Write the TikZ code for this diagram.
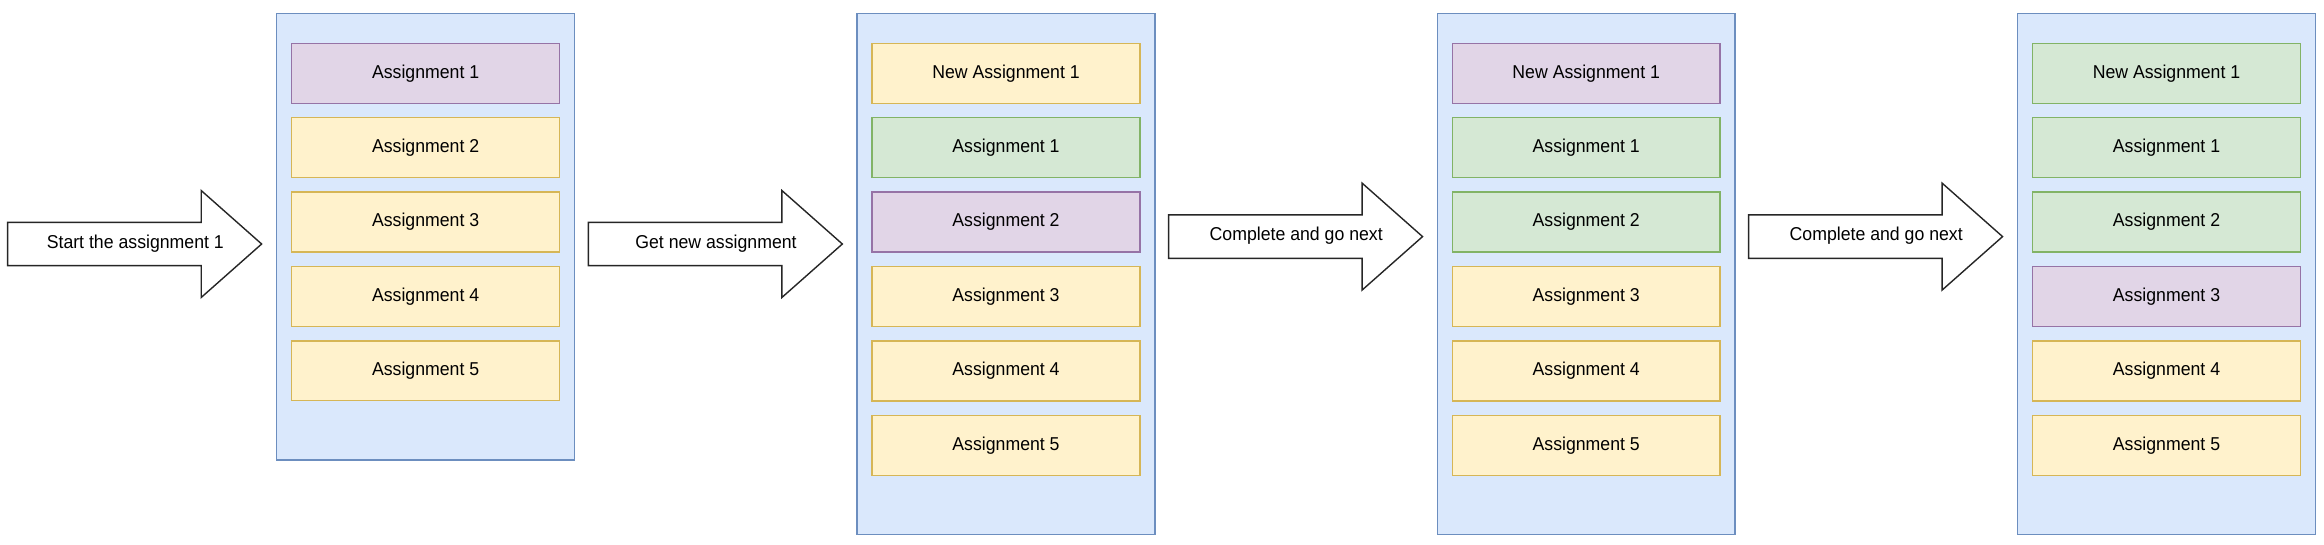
\documentclass[tikz,border=0pt]{standalone}
\usepackage{fontspec}
\setmainfont{Liberation Sans}[FakeStretch=0.95]
\usetikzlibrary{positioning, shapes.arrows}
\definecolor{panelBlue}{HTML}{DAE8FC}
\definecolor{panelBlueLine}{HTML}{6C8EBF}
\definecolor{taskYellow}{HTML}{FFF2CC}
\definecolor{taskYellowLine}{HTML}{D6B656}
\definecolor{taskPurple}{HTML}{E1D5E7}
\definecolor{taskPurpleLine}{HTML}{9673A6}
\definecolor{taskGreen}{HTML}{D5E8D4}
\definecolor{taskGreenLine}{HTML}{82B366}
\tikzstyle{listbox} =[draw=panelBlueLine, fill=panelBlue, line width=0.8pt, minimum width=5.96cm, minimum height=10.42cm]
\tikzstyle{task} =[draw, line width=0.8pt, minimum width=5.36cm, minimum height=1.2cm, inner sep=0pt, font=\fontsize{10.6}{12}\selectfont]
\tikzstyle{todo} =[task, draw=taskYellowLine, fill=taskYellow]
\tikzstyle{doing} =[task, draw=taskPurpleLine, fill=taskPurple]
\tikzstyle{done} =[task, draw=taskGreenLine, fill=taskGreen]
\tikzstyle{bigarrow} =[single arrow, draw=black!85, fill=white, line width=0.8pt, minimum height=5.08cm, single arrow head extend=0.635cm, single arrow tip angle=83, text height=7pt, text depth=2pt, inner ysep=7.45pt, inner xsep=0pt, execute at begin node={\hspace*{0.516cm}}, font=\fontsize{10.6}{12}\selectfont]

\begin{document}
\begin{tikzpicture}[x=0.02cm, y=-0.02cm]
\useasboundingbox (0,0) rectangle (2324,544);

\node (startArrow) [bigarrow] at (122.4,244) {Start the assignment 1};
\node (newArrow) [bigarrow] at (703.1,244) {Get new assignment};
\node (nextArrow) [bigarrow] at (1283.3,236.6) {Complete and go next};
\node (lastArrow) [bigarrow] at (1863.3,236.6) {Complete and go next};

\node (listOne) [listbox, minimum height=8.94cm] at (425.6,236.7) {};
\node (listTwo) [listbox] at (1006,273.8) {};
\node (listThree) [listbox] at (1586.2,273.8) {};
\node (listFour) [listbox] at (2166.5,273.8) {};

% first list
\node (listOneA) [doing, below=0.6cm of listOne.north] {Assignment 1};
\node (listOneB) [todo, below=0.26cm of listOneA] {Assignment 2};
\node (listOneC) [todo, below=0.26cm of listOneB] {Assignment 3};
\node (listOneD) [todo, below=0.26cm of listOneC] {Assignment 4};
\node (listOneE) [todo, below=0.26cm of listOneD] {Assignment 5};

% second list
\node (listTwoA) [todo, below=0.6cm of listTwo.north] {New Assignment 1};
\node (listTwoB) [done, below=0.26cm of listTwoA] {Assignment 1};
\node (listTwoC) [doing, below=0.26cm of listTwoB] {Assignment 2};
\node (listTwoD) [todo, below=0.26cm of listTwoC] {Assignment 3};
\node (listTwoE) [todo, below=0.26cm of listTwoD] {Assignment 4};
\node (listTwoF) [todo, below=0.26cm of listTwoE] {Assignment 5};

% third list
\node (listThreeA) [doing, below=0.6cm of listThree.north] {New Assignment 1};
\node (listThreeB) [done, below=0.26cm of listThreeA] {Assignment 1};
\node (listThreeC) [done, below=0.26cm of listThreeB] {Assignment 2};
\node (listThreeD) [todo, below=0.26cm of listThreeC] {Assignment 3};
\node (listThreeE) [todo, below=0.26cm of listThreeD] {Assignment 4};
\node (listThreeF) [todo, below=0.26cm of listThreeE] {Assignment 5};

% fourth list
\node (listFourA) [done, below=0.6cm of listFour.north] {New Assignment 1};
\node (listFourB) [done, below=0.26cm of listFourA] {Assignment 1};
\node (listFourC) [done, below=0.26cm of listFourB] {Assignment 2};
\node (listFourD) [doing, below=0.26cm of listFourC] {Assignment 3};
\node (listFourE) [todo, below=0.26cm of listFourD] {Assignment 4};
\node (listFourF) [todo, below=0.26cm of listFourE] {Assignment 5};
\end{tikzpicture}
\end{document}
